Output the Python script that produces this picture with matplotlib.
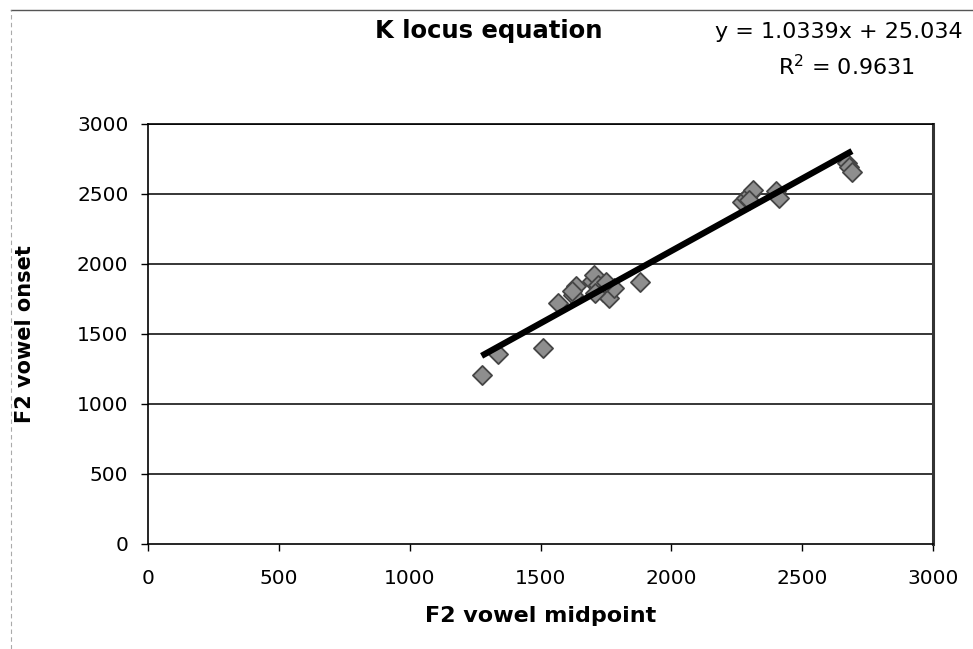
import numpy as np
import matplotlib.pyplot as plt
from matplotlib.lines import Line2D

# data
f2_mid = [1275, 1338, 1509, 1568, 1625, 1635, 1620,
          1695, 1705, 1720, 1740, 1760, 1780, 1710, 1750,
          1880,
          2270, 2285, 2300, 2310, 2295, 2400, 2410,
          2670, 2680, 2690]
f2_onset = [1205, 1360, 1400, 1720, 1780, 1840, 1810,
            1880, 1920, 1850, 1800, 1760, 1830, 1790, 1870,
            1870,
            2440, 2470, 2500, 2530, 2460, 2520, 2470,
            2720, 2690, 2660]
slope = 1.0339
intercept = 25.034
r2 = 0.9631
xticks = [0, 500, 1000, 1500, 2000, 2500, 3000]
yticks = [0, 500, 1000, 1500, 2000, 2500, 3000]

fig = plt.figure(figsize=(9.73, 6.49), dpi=100)
ax = fig.add_axes([0.152, 0.162, 0.807, 0.647])

# horizontal gridlines
for yv in yticks[1:]:
    ax.axhline(yv, color='black', lw=1.1, zorder=1)

ax.scatter(f2_mid, f2_onset, marker='D', s=95, facecolor='#8e8e8e',
           edgecolor='#454545', linewidth=1.3, zorder=3)

xl = np.array([min(f2_mid), max(f2_mid)])
ax.plot(xl, slope * xl + intercept, color='black', lw=4.5, solid_capstyle='butt', zorder=4)

ax.set_xlim(0, 3000)
ax.set_ylim(0, 3000)
ax.set_xticks(xticks)
ax.set_yticks(yticks)
ax.tick_params(direction='out', length=5, width=1, labelsize=14.5)
ax.tick_params(axis='x', pad=13)
ax.tick_params(axis='y', pad=9)
for s in ax.spines.values():
    s.set_color('black')
    s.set_linewidth(1.2)
ax.spines['right'].set_linewidth(2.2)
ax.spines['right'].set_color('#333333')

ax.set_xlabel('F2 vowel midpoint', fontsize=16, fontweight='bold', labelpad=13)
ax.set_ylabel('F2 vowel onset', fontsize=15, fontweight='bold', labelpad=30)

fig.text(0.502, 0.952, 'K locus equation', ha='center', va='center',
         fontsize=17.5, fontweight='bold')
fig.text(0.862, 0.950, 'y = %.4fx + %.3f' % (slope, intercept), ha='center',
         va='center', fontsize=16)
fig.text(0.870, 0.898, '$\\mathregular{R^2}$ = %.4f' % r2, ha='center',
         va='center', fontsize=16)

# chart area border (top and left, as in the scan)
fig.add_artist(Line2D([0.011, 1.0], [0.984, 0.984], color='#555555', lw=1))
fig.add_artist(Line2D([0.011, 0.011], [0.0, 0.984], color='#aaaaaa', lw=0.8,
                      linestyle=(0, (4, 3))))

plt.savefig('out.png', dpi=100)
